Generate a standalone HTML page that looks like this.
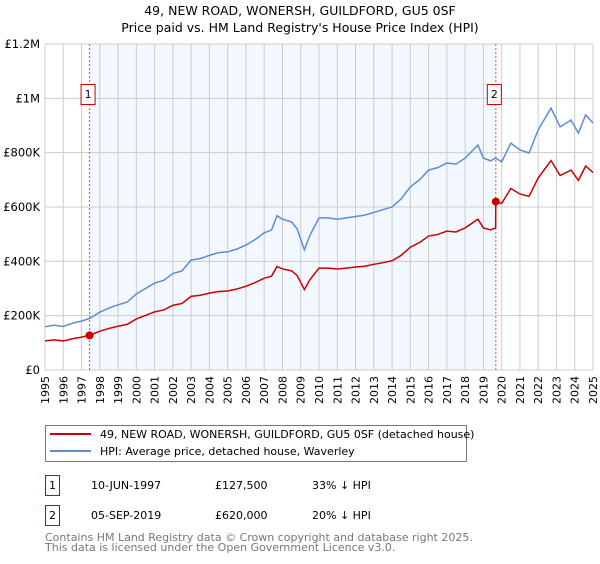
<!DOCTYPE html>
<html><head><meta charset="utf-8"><style>
body{margin:0;background:#fff;font-family:"DejaVu Sans","Liberation Sans",sans-serif;}
svg text{font-family:"DejaVu Sans","Liberation Sans",sans-serif;}
</style></head><body>
<svg id="chart" width="600" height="560" xmlns="http://www.w3.org/2000/svg">
<text x="300" y="15" font-size="12.5" text-anchor="middle">49, NEW ROAD, WONERSH, GUILDFORD, GU5 0SF</text>
<text x="300" y="32" font-size="12.5" text-anchor="middle">Price paid vs. HM Land Registry's House Price Index (HPI)</text>
<g id="plot"></g>
<g>
<rect x="45.5" y="425.5" width="421" height="36" fill="#fff" stroke="#777"/>
<line x1="50" y1="434" x2="91" y2="434" stroke="#cc0000" stroke-width="2"/>
<text x="100" y="438" font-size="11">49, NEW ROAD, WONERSH, GUILDFORD, GU5 0SF (detached house)</text>
<line x1="50" y1="451" x2="91" y2="451" stroke="#5b8fd4" stroke-width="2"/>
<text x="100" y="455" font-size="11">HPI: Average price, detached house, Waverley</text>
</g>
<g font-size="11">
<rect x="45.5" y="475.5" width="14" height="20" fill="#fff" stroke="#cc0000"/>
<text x="52.5" y="489" text-anchor="middle">1</text>
<text x="91" y="489">10-JUN-1997</text><text x="215" y="489">£127,500</text><text x="312" y="489">33% ↓ HPI</text>
<rect x="45.5" y="505.5" width="14" height="20" fill="#fff" stroke="#cc0000"/>
<text x="52.5" y="519" text-anchor="middle">2</text>
<text x="91" y="519">05-SEP-2019</text><text x="215" y="519">£620,000</text><text x="312" y="519">20% ↓ HPI</text>
</g>
<g font-size="11" fill="#777">
<text x="45" y="541">Contains HM Land Registry data © Crown copyright and database right 2025.</text>
<text x="45" y="551">This data is licensed under the Open Government Licence v3.0.</text>
</g>
</svg>
<script>
const dates=[1995,1995.5,1996,1996.5,1997,1997.44,1998,1998.5,1999,1999.5,2000,2000.5,2001,2001.5,2002,2002.5,2003,2003.5,2004,2004.5,2005,2005.5,2006,2006.5,2007,2007.4,2007.7,2008,2008.5,2008.8,2009.2,2009.5,2010,2010.5,2011,2011.5,2012,2012.5,2013,2013.5,2014,2014.5,2015,2015.5,2016,2016.5,2017,2017.5,2018,2018.7,2019,2019.4,2019.67,2019.68,2020,2020.5,2021,2021.5,2022,2022.7,2023.2,2023.8,2024.2,2024.6,2025];
const hpi=[159,165,160,172,180,190,213,228,240,250,280,300,320,330,355,365,405,410,422,432,435,445,460,480,505,515,568,555,545,520,442,495,560,560,555,560,565,570,580,590,600,630,674,700,736,745,762,758,780,828,780,770,780,780,766,835,810,799,884,964,895,920,872,939,909];
const price=[107,111,107,115,121,127.5,143,153,161,168,188,201,214,221,238,245,271,275,283,289,291,298,308,322,338,345,381,372,365,348,296,332,375,375,372,375,379,382,389,395,402,422,452,469,493,499,511,508,523,555,523,516,523,620,613,668,648,639,707,771,716,736,698,751,727];
const saleDates=[1997.44,2019.68];
const salePrices=[127.5,620];
const saleLabels=["1","2"];
const yTicks=[0,200,400,600,800,1000,1200];
const yTickLabels=["£0","£200K","£400K","£600K","£800K","£1M","£1.2M"];
const xYears=[1995,1996,1997,1998,1999,2000,2001,2002,2003,2004,2005,2006,2007,2008,2009,2010,2011,2012,2013,2014,2015,2016,2017,2018,2019,2020,2021,2022,2023,2024,2025];

const NS="http://www.w3.org/2000/svg";
const X0=45,X1=593,Y0=370,Y1=44;
const xs=d=>X0+(d-1995)/30*(X1-X0);
const ys=v=>Y0-v/1200*(Y0-Y1);
const g=document.getElementById('plot');
function mk(t,a){const e=document.createElementNS(NS,t);for(const k in a)e.setAttribute(k,a[k]);g.appendChild(e);return e;}
const shade=mk('rect',{x:xs(saleDates[0]),y:Y1,width:xs(saleDates[1])-xs(saleDates[0]),height:Y0-Y1,fill:'#eef3fd',opacity:0.7});


xYears.forEach(y=>{const l=mk('line',{x1:xs(y),x2:xs(y),y1:Y1,y2:Y0,stroke:'#ccc'});


const t=mk('text',{x:0,y:0,'font-size':11,'text-anchor':'end',transform:`translate(${xs(y)+4},376) rotate(-90)`});t.textContent=y;

});
yTicks.forEach((v,i)=>{const l=mk('line',{x1:X0,x2:X1,y1:ys(v),y2:ys(v),stroke:'#ccc'});


const t=mk('text',{x:40,y:ys(v)+4,'font-size':11.5,'text-anchor':'end'});t.textContent=yTickLabels[i];

});
saleDates.forEach((d,i)=>{const l=mk('line',{x1:xs(d),x2:xs(d),y1:Y1,y2:Y0,stroke:'#e05050','stroke-dasharray':'2,2'});


const r=mk('rect',{x:xs(d)-8.5,y:84.5,width:14,height:20,fill:'#fff',stroke:'#cc0000'});


const t=mk('text',{x:xs(d)-1.5,y:98,'font-size':11,'text-anchor':'middle'});t.textContent=saleLabels[i];

});
const hp=mk('polyline',{points:dates.map((d,i)=>xs(d)+','+ys(hpi[i])).join(' '),fill:'none',stroke:'#5b8fd4','stroke-width':1.5});


const pp=mk('polyline',{points:dates.map((d,i)=>xs(d)+','+ys(price[i])).join(' '),fill:'none',stroke:'#cc0000','stroke-width':1.5});


saleDates.forEach((d,i)=>{const c=mk('circle',{cx:xs(d),cy:ys(salePrices[i]),r:4,fill:'#cc0000'});

});
</script>
</body></html>
